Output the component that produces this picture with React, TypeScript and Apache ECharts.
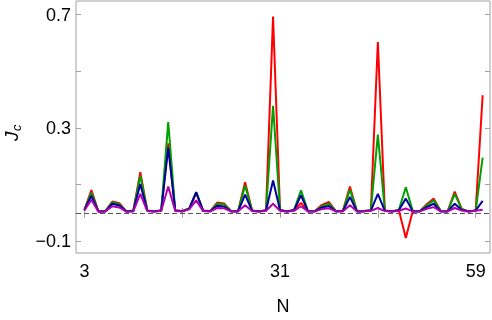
import React, { useEffect, useRef } from "react";
import * as echarts from "echarts";

const N_VALUES: number[] = [];
for (let n = 3; n <= 60; n++) N_VALUES.push(n);

const RED = [
  0.010, 0.080, 0.005, 0.006, 0.040, 0.034, 0.005, 0.007, 0.143, 0.008,
  0.005, 0.009, 0.245, 0.008, 0.006, 0.015, 0.070, 0.008, 0.006, 0.036,
  0.033, 0.006, 0.006, 0.108, 0.008, 0.005, 0.009, 0.693, 0.010, 0.005,
  0.010, 0.035, 0.006, 0.006, 0.028, 0.038, 0.006, 0.007, 0.093, 0.006,
  0.006, 0.009, 0.603, 0.008, 0.005, 0.010, -0.089, 0.006, 0.006, 0.030,
  0.050, 0.006, 0.006, 0.075, 0.014, 0.005, 0.008, 0.415,
];
const GREEN = [
  0.010, 0.071, 0.005, 0.006, 0.037, 0.030, 0.005, 0.007, 0.131, 0.008,
  0.005, 0.008, 0.320, 0.008, 0.006, 0.015, 0.072, 0.007, 0.006, 0.032,
  0.030, 0.006, 0.006, 0.096, 0.008, 0.005, 0.009, 0.378, 0.010, 0.005,
  0.010, 0.079, 0.006, 0.006, 0.024, 0.032, 0.006, 0.007, 0.082, 0.006,
  0.006, 0.009, 0.276, 0.008, 0.005, 0.010, 0.090, 0.006, 0.006, 0.026,
  0.044, 0.006, 0.006, 0.067, 0.013, 0.005, 0.008, 0.195,
];
const BLUE = [
  0.010, 0.060, 0.005, 0.005, 0.032, 0.026, 0.005, 0.006, 0.102, 0.007,
  0.005, 0.008, 0.230, 0.008, 0.005, 0.014, 0.073, 0.007, 0.005, 0.025,
  0.022, 0.005, 0.005, 0.064, 0.007, 0.005, 0.008, 0.114, 0.009, 0.005,
  0.009, 0.062, 0.005, 0.005, 0.019, 0.024, 0.005, 0.006, 0.056, 0.005,
  0.005, 0.008, 0.067, 0.007, 0.005, 0.009, 0.050, 0.005, 0.005, 0.020,
  0.032, 0.005, 0.005, 0.032, 0.010, 0.005, 0.008, 0.042,
];
const MAGENTA = [
  0.008, 0.046, 0.004, 0.005, 0.023, 0.019, 0.004, 0.005, 0.067, 0.006,
  0.004, 0.007, 0.093, 0.006, 0.005, 0.012, 0.044, 0.006, 0.005, 0.017,
  0.016, 0.005, 0.005, 0.027, 0.006, 0.004, 0.007, 0.032, 0.007, 0.004,
  0.007, 0.023, 0.005, 0.005, 0.013, 0.016, 0.005, 0.005, 0.027, 0.005,
  0.005, 0.007, 0.017, 0.006, 0.004, 0.007, 0.015, 0.005, 0.005, 0.014,
  0.020, 0.005, 0.005, 0.017, 0.008, 0.004, 0.007, 0.011,
];

const X_TICKS = [3, 17, 31, 45, 59];
const X_LABELS = [3, 31, 59];
const Y_TICKS = [-0.1, 0.1, 0.3, 0.5, 0.7];
const Y_LABELS = [-0.1, 0.3, 0.7];

const FONT = "Liberation Sans";
const FRAME = "#a0a0a0";

function pairs(vals: number[]) {
  return vals.map((v, i) => [N_VALUES[i], v]);
}

export default function App() {
  const ref = useRef<HTMLDivElement>(null);
  useEffect(() => {
    if (!ref.current) return;
    const chart = echarts.init(ref.current, undefined, { renderer: "svg" });
    const xMin = 1.8, xMax = 61.05, yMin = -0.142, yMax = 0.748;
    const tick = { show: true, inside: true, length: 5, lineStyle: { color: FRAME, width: 1 } };
    const fmtY = (v: number) => (v < 0 ? "\u2212" + Math.abs(v).toFixed(1) : v.toFixed(1));
    const mkLine = (name: string, color: string, data: number[], z: number, extra: any = {}) => ({
      type: "line",
      name,
      data: pairs(data),
      showSymbol: false,
      symbol: "none",
      z,
      lineStyle: { color, width: 2 },
      itemStyle: { color },
      ...extra,
    });
    chart.setOption({
      animation: false,
      grid: {
        left: 76,
        top: 1,
        width: 414,
        height: 256,
        show: true,
        borderColor: FRAME,
        borderWidth: 1,
        backgroundColor: "transparent",
      },
      xAxis: [
        {
          type: "value",
          min: xMin,
          max: xMax,
          position: "bottom",
          axisLine: { show: false },
          splitLine: { show: false },
          axisTick: { ...tick, customValues: X_TICKS },
          axisLabel: {
            customValues: X_LABELS,
            fontSize: 18,
            fontFamily: FONT,
            color: "#000",
            margin: 9,
          },
          name: "N",
          nameLocation: "middle",
          nameGap: 44,
          nameTextStyle: { fontSize: 18, fontFamily: FONT, color: "#000" },
        },
        {
          type: "value",
          min: xMin,
          max: xMax,
          position: "top",
          axisLine: { show: false },
          splitLine: { show: false },
          axisTick: { ...tick, customValues: X_TICKS },
          axisLabel: { show: false },
        },
      ],
      yAxis: [
        {
          type: "value",
          min: yMin,
          max: yMax,
          position: "left",
          axisLine: { show: false },
          splitLine: { show: false },
          axisTick: { ...tick, customValues: Y_TICKS },
          axisLabel: {
            customValues: Y_LABELS,
            formatter: fmtY,
            fontSize: 18,
            fontFamily: FONT,
            color: "#000",
            margin: 5,
          },
        },
        {
          type: "value",
          min: yMin,
          max: yMax,
          position: "right",
          axisLine: { show: false },
          splitLine: { show: false },
          axisTick: { ...tick, customValues: Y_TICKS },
          axisLabel: { show: false },
        },
      ],
      series: [
        mkLine("red", "#ff0000", RED, 3, {
          markLine: {
            silent: true,
            symbol: "none",
            label: { show: false },
            lineStyle: { color: "#555", type: [5, 3], width: 1 },
            data: [{ yAxis: 0 }],
            z: 1,
          },
        }),
        mkLine("green", "#00a000", GREEN, 4),
        mkLine("blue", "#0000a0", BLUE, 5),
        mkLine("magenta", "#b000b0", MAGENTA, 6),
      ],
      graphic: [
        {
          type: "group",
          x: 11,
          y: 141,
          rotation: Math.PI / 2,
          children: [
            {
              type: "text",
              x: 0,
              y: 0,
              style: {
                text: "J",
                fontSize: 19,
                fontStyle: "italic",
                fontFamily: FONT,
                fill: "#000",
                align: "left",
                verticalAlign: "middle",
              },
            },
            {
              type: "text",
              x: 10,
              y: 5,
              style: {
                text: "c",
                fontSize: 13,
                fontStyle: "italic",
                fontFamily: FONT,
                fill: "#000",
                align: "left",
                verticalAlign: "middle",
              },
            },
          ],
        },
      ],
    });
    return () => chart.dispose();
  }, []);
  return (
    <div
      ref={ref}
      style={{ position: "fixed", left: 0, top: 0, width: 492, height: 320 }}
    />
  );
}
